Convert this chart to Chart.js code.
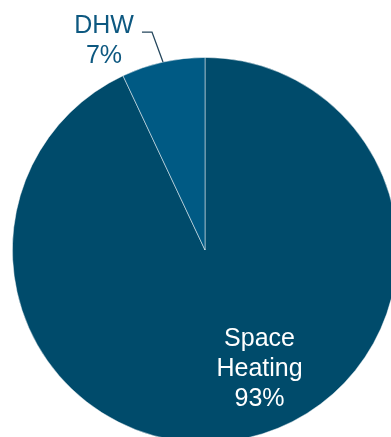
<!DOCTYPE html>
<html>
<head>
<meta charset="utf-8">
<script src="https://cdn.jsdelivr.net/npm/chart.js@4"></script>
<style>
  html, body { margin: 0; padding: 0; background: #fff; overflow: hidden; }
  #wrap { position: absolute; left: 0; top: 0; width: 400px; height: 450px; }
</style>
</head>
<body>
<div id="wrap"><canvas id="pie"></canvas></div>
<script>
const categories = ["Space Heating", "DHW"];
const shares = [93, 7];
const sliceColors = ["#004b6b", "#005a84"];

const FONT = "Liberation Sans, Arial, sans-serif";

// draws the two labels: one inside the big slice, one outside with a leader line
const labelPlugin = {
  id: "pieLabels",
  afterDatasetsDraw(chart) {
    const ctx = chart.ctx;
    const arcs = chart.getDatasetMeta(0).data;
    ctx.save();
    ctx.font = "25px " + FONT;
    ctx.textAlign = "center";
    ctx.textBaseline = "alphabetic";

    // Space Heating, inside
    const big = arcs[0];
    const a1 = big.startAngle + (big.endAngle - big.startAngle) * 0.463;
    const r1 = big.outerRadius * 0.67;
    const cx = big.x + Math.cos(a1) * r1;
    const cy = big.y + Math.sin(a1) * r1;
    ctx.fillStyle = "#ffffff";
    const words = categories[0].split(" ");
    const lines = [...words, shares[0] + "%"];
    lines.forEach((t, i) => {
      ctx.fillText(t, cx, cy + 9 + (i - 1) * 30);
    });

    // DHW, outside with leader
    const small = arcs[1];
    const a2 = (small.startAngle + small.endAngle) / 2;
    const px = small.x + Math.cos(a2) * small.outerRadius;
    const py = small.y + Math.sin(a2) * small.outerRadius;
    const ex = px - 11, ey = py - 30;
    ctx.strokeStyle = "#24465c";
    ctx.lineWidth = 1.3;
    ctx.beginPath();
    ctx.moveTo(px, py);
    ctx.lineTo(ex, ey);
    ctx.lineTo(ex - 10, ey);
    ctx.stroke();
    ctx.fillStyle = "#0d5880";
    ctx.fillText(categories[1], ex - 48, ey + 1);
    ctx.fillText(shares[1] + "%", ex - 48, ey + 31);
    ctx.restore();
  },
};

document.addEventListener("DOMContentLoaded", () => {
  new Chart(document.getElementById("pie"), {
    type: "pie",
    data: {
      labels: categories,
      datasets: [
        {
          data: shares,
          backgroundColor: sliceColors,
          borderColor: "rgba(255,255,255,0.6)",
          borderWidth: 0.8,
        },
      ],
    },
    options: {
      responsive: true,
      maintainAspectRatio: false,
      animation: false,
      layout: { padding: { left: 12, right: 2, top: 57, bottom: 7 } },
      plugins: {
        legend: { display: false },
        tooltip: { enabled: false },
      },
    },
    plugins: [labelPlugin],
  });
});
</script>
</body>
</html>
